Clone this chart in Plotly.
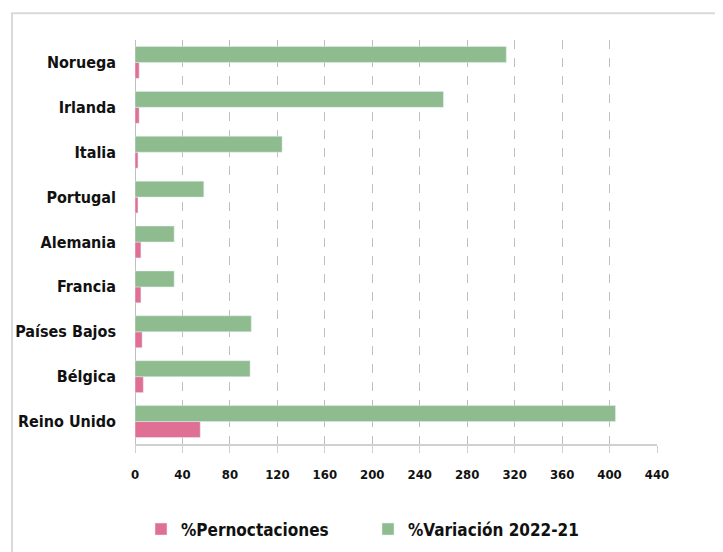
import plotly.graph_objects as go

# bottom-to-top order
countries = ["Reino Unido", "Bélgica", "Países Bajos", "Francia", "Alemania",
             "Portugal", "Italia", "Irlanda", "Noruega"]
pernoctaciones = [55, 7, 6, 5, 5, 2.5, 2.5, 3.5, 3.5]
variacion = [405, 97, 98, 33, 33, 58, 124, 260, 313]
x_ticks = list(range(0, 441, 40))

FONT = "DejaVu Sans Condensed, Roboto, sans-serif"
PINK = "#DF7094"
GREEN = "#8FBC8F"

fig = go.Figure()
fig.add_trace(go.Bar(y=countries, x=pernoctaciones, orientation="h",
                     name="%Pernoctaciones", marker_color=PINK))
fig.add_trace(go.Bar(y=countries, x=variacion, orientation="h",
                     name="%Variación 2022-21", marker_color=GREEN))

# page has an 8px body margin, so work in shifted coords
OFF = 8
W, H = 723, 552
L, R, T, B = 135 - OFF, 657 - OFF, 40 - OFF, 446 - OFF
pw, ph = R - L, B - T


def px(x):
    return (x - OFF - L) / pw


def py(y):
    return (B - (y - OFF)) / ph


fig.add_shape(type="rect", xref="paper", yref="paper",
              x0=px(12), x1=px(720), y0=py(600), y1=py(13),
              line=dict(color="#d9d9d9", width=2), layer="below")

fig.update_layout(
    width=W, height=H,
    margin=dict(l=L, r=W - R, t=T, b=H - B),
    paper_bgcolor="white", plot_bgcolor="white",
    barmode="group", bargap=0.29, bargroupgap=0,
    font=dict(family=FONT, color="#111111"),
    showlegend=True,
    legend=dict(orientation="h", x=px(368), xanchor="center", y=py(550), yanchor="bottom",
                font=dict(size=17, family=FONT, weight="bold"),
                itemwidth=30, entrywidth=182, traceorder="normal"),
    xaxis=dict(range=[0, 440], tickvals=x_ticks, showgrid=True, automargin=False,
               gridcolor="#bfbfbf", griddash="dash", gridwidth=1,
               zeroline=True, zerolinecolor="#bfbfbf", zerolinewidth=1,
               showline=True, linecolor="#d0d0d0", linewidth=2,
               ticks="outside", ticklen=7, tickcolor="#d0d0d0",
               tickfont=dict(size=13, family=FONT, weight="bold"),
               ticklabelstandoff=10),
    yaxis=dict(showgrid=False, ticks="", ticklabelstandoff=18, automargin=False,
               tickfont=dict(size=16, family=FONT, weight="bold")),
)

fig.write_html("out.html")
